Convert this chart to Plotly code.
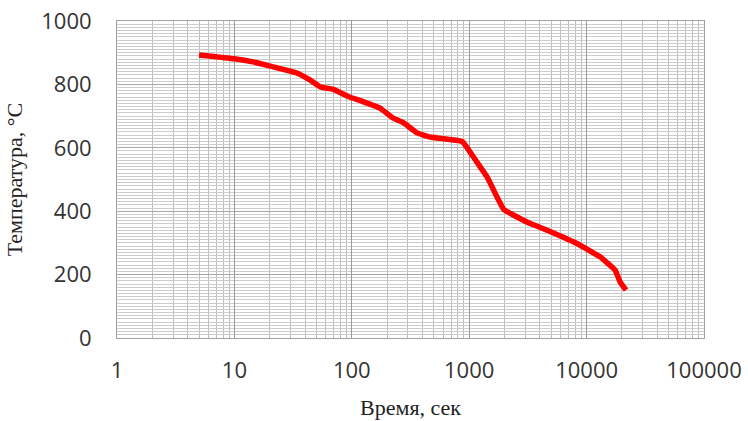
import plotly.graph_objects as go

time_s = [5, 10, 14.4, 21, 34, 44, 54, 69, 93, 120, 174, 224, 273, 359, 463, 835, 885,
          1164, 1419, 1725, 1978, 3105, 4880, 8280, 13000, 17460, 19280, 21670]
temp_c = [893, 881, 871, 856, 836, 814, 792, 785, 762, 748, 725, 694, 680, 647, 634, 622, 618,
          555, 508, 445, 405, 366, 336, 298, 256, 215, 177, 151]

x_ticks = [1, 10, 100, 1000, 10000, 100000]
x_labels = ["1", "10", "100", "1000", "10000", "100000"]

fig = go.Figure()
fig.add_trace(go.Scatter(
    x=time_s, y=temp_c, mode="lines",
    line=dict(color="#ff0000", width=5.5, shape="spline", smoothing=0.3),
    showlegend=False, hoverinfo="skip",
))

tick_font = dict(family="Open Sans", size=22, color="#333333")
title_font = dict(family="Liberation Serif", size=22, color="#222222")

fig.update_layout(
    width=748, height=421,
    margin=dict(l=117, r=44, t=21, b=83, autoexpand=False),
    paper_bgcolor="white", plot_bgcolor="white",
    xaxis=dict(
        type="log", range=[0, 5], automargin=False,
        tickvals=x_ticks, ticktext=x_labels, ticklabeloverflow="allow",
        showgrid=True, gridcolor="#9a9a9a", gridwidth=1,
        minor=dict(dtick="D1", showgrid=True, gridcolor="#bdbdbd", gridwidth=1, ticks=""),
        showline=True, linecolor="#a0a0a0", linewidth=1, mirror=True,
        ticks="", tickfont=tick_font, ticklabelstandoff=13,
        title=dict(text="Время, сек", font=title_font, standoff=16),
        zeroline=False,
    ),
    yaxis=dict(
        range=[0, 1000], dtick=200, automargin=False, ticklabeloverflow="allow",
        showgrid=True, gridcolor="#a6a6a6", gridwidth=1,
        minor=dict(dtick=10, showgrid=True, gridcolor="#cccccc", gridwidth=1, ticks=""),
        showline=True, linecolor="#a0a0a0", linewidth=1, mirror=True,
        ticks="", tickfont=tick_font, ticklabelstandoff=20,
        title=dict(text="Температура, °С", font=title_font, standoff=12),
        zeroline=False,
    ),
)

fig.write_html(
    "out.html",
    config={"displayModeBar": False, "staticPlot": True},
    post_script="document.body.style.margin='0';document.body.style.overflow='hidden';",
)
